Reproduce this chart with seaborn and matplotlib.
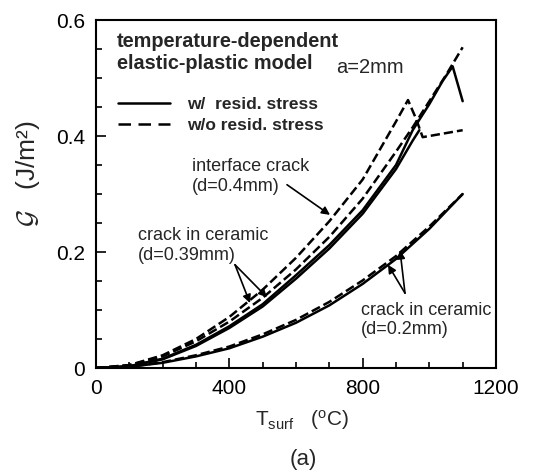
import matplotlib
matplotlib.use("Agg")
import matplotlib.pyplot as plt
import seaborn as sns
import pandas as pd
from matplotlib.lines import Line2D

# ---- data ----
T_int_w = [0, 100, 200, 300, 400, 500, 600, 700, 800, 900, 950, 1000, 1040, 1070, 1100]
G_int_w = [0, 0.003, 0.016, 0.04, 0.072, 0.11, 0.16, 0.212, 0.272, 0.35, 0.41, 0.455, 0.495, 0.52, 0.46]

T_int_wo = [0, 100, 200, 300, 400, 500, 600, 700, 800, 900, 950, 1000, 1050, 1100]
G_int_wo = [0, 0.005, 0.02, 0.046, 0.08, 0.121, 0.17, 0.226, 0.292, 0.373, 0.415, 0.46, 0.505, 0.553]

T_c39_w = [0, 100, 200, 300, 400, 500, 600, 700, 800, 900, 950, 970]
G_c39_w = [0, 0.003, 0.015, 0.038, 0.069, 0.106, 0.154, 0.206, 0.266, 0.343, 0.392, 0.41]

T_c39_wo = [0, 100, 200, 300, 400, 500, 600, 700, 800, 900, 936, 960, 980, 1000, 1050, 1100]
G_c39_wo = [0, 0.005, 0.022, 0.05, 0.088, 0.135, 0.19, 0.253, 0.325, 0.425, 0.462, 0.43, 0.398, 0.40, 0.405, 0.41]

T_c20 = [0, 100, 200, 300, 400, 500, 600, 700, 800, 900, 1000, 1100]
G_c20_w = [0, 0.002, 0.009, 0.02, 0.034, 0.054, 0.078, 0.108, 0.145, 0.188, 0.24, 0.30]
G_c20_wo = [0, 0.002, 0.010, 0.022, 0.037, 0.058, 0.083, 0.114, 0.151, 0.193, 0.244, 0.30]

x_ticks = [0, 400, 800, 1200]
y_ticks = [0, 0.2, 0.4, 0.6]
y_tick_labels = ["0", "0.2", "0.4", "0.6"]
legend_labels = ["w/  resid. stress", "w/o resid. stress"]

# ---- style ----
sns.set_theme(style="ticks")
plt.rcParams["font.family"] = ["Liberation Sans", "DejaVu Sans"]
plt.rcParams["mathtext.fontset"] = "custom"
plt.rcParams["mathtext.rm"] = "Liberation Sans"
plt.rcParams["mathtext.it"] = "Liberation Sans:italic"
plt.rcParams["mathtext.bf"] = "Liberation Sans:bold"

fig = plt.figure(figsize=(5.36, 4.70), dpi=100)
ax = fig.add_axes([96 / 536, 1 - 368 / 470, 400 / 536, 348 / 470])

LW = 1.8
DASH = (4.3, 2.5)

series = [
    (T_int_w, G_int_w, "-"),
    (T_c39_w, G_c39_w, "-"),
    (T_int_wo, G_int_wo, "--"),
    (T_c39_wo, G_c39_wo, "--"),
    (T_c20, G_c20_w, "-"),
    (T_c20, G_c20_wo, "--"),
]
for T, G, ls in series:
    df = pd.DataFrame({"T": T, "G": G})
    kw = dict(dashes=DASH) if ls == "--" else {}
    sns.lineplot(data=df, x="T", y="G", ax=ax, color="black", lw=LW,
                 estimator=None, sort=False, linestyle=ls, **kw)

ax.set_xlim(0, 1200)
ax.set_ylim(0, 0.6)
ax.set_xticks(x_ticks)
ax.set_xticklabels([str(v) for v in x_ticks])
ax.set_yticks(y_ticks)
ax.set_yticklabels(y_tick_labels)
ax.set_xticks(range(0, 1201, 100), minor=True)
ax.set_yticks([i * 0.05 for i in range(13)], minor=True)
ax.tick_params(which="both", direction="in", top=False, right=False,
               width=1.2, labelsize=15, pad=8, colors="black")
ax.tick_params(which="major", length=7)
ax.tick_params(which="minor", length=4)
for s in ax.spines.values():
    s.set_linewidth(1.5)
    s.set_color("black")

ax.set_xlabel("T$_{\\mathrm{surf}}$   ($^{\\mathrm{o}}$C)", fontsize=15)
ax.xaxis.set_label_coords(0.515, -0.115)
ax.set_ylabel("$\\mathcal{G}$   (J/m²)", fontsize=19, math_fontfamily="cm")
ax.yaxis.set_label_coords(-0.135, 0.56)

# texts
ax.text(63, 0.579, "temperature-dependent\nelastic-plastic model", fontsize=14.3,
        fontweight="bold", va="top", ha="left", linespacing=1.2)
ax.text(720, 0.534, "a=2mm", fontsize=14.5, va="top", ha="left")

handles = [Line2D([], [], color="black", lw=LW, linestyle="-"),
           Line2D([], [], color="black", lw=LW, linestyle=(0, (5, 3)))]
ax.legend(handles, legend_labels, loc="upper left", bbox_to_anchor=(0.055, 0.78),
          frameon=False, handlelength=3.0, handletextpad=0.95, labelspacing=0.38,
          borderpad=0, borderaxespad=0, prop={"size": 12.5, "weight": "bold"})

ax.text(288, 0.362, "interface crack\n(d=0.4mm)", fontsize=13, va="top",
        ha="left", linespacing=1.25)
ax.annotate("", xy=(702, 0.264), xytext=(573, 0.316),
            arrowprops=dict(arrowstyle="-|>", color="black", lw=1.2,
                            shrinkA=0, shrinkB=0))

ax.text(126, 0.243, "crack in ceramic\n(d=0.39mm)", fontsize=13, va="top",
        ha="left", linespacing=1.2)
for tip in [(462, 0.112), (513, 0.122)]:
    ax.annotate("", xy=tip, xytext=(417, 0.178),
                arrowprops=dict(arrowstyle="-|>", color="black", lw=1.2,
                                shrinkA=0, shrinkB=0))

ax.text(795, 0.114, "crack in ceramic\n(d=0.2mm)", fontsize=13, va="top",
        ha="left", linespacing=1.2)
for tip in [(876, 0.178), (912, 0.203)]:
    ax.annotate("", xy=tip, xytext=(927, 0.129),
                arrowprops=dict(arrowstyle="-|>", color="black", lw=1.2,
                                shrinkA=0, shrinkB=0))

fig.text(303 / 536, 1 - 460 / 470, "(a)", fontsize=16, ha="center", va="center")

fig.savefig("out.png", dpi=100, facecolor="white")
